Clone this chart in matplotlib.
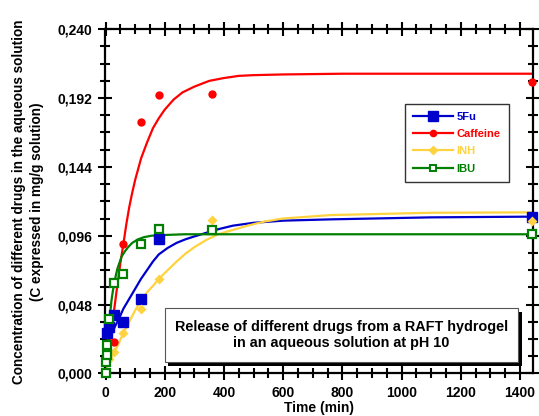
import numpy as np
import matplotlib
matplotlib.use('Agg')
import matplotlib.pyplot as plt
from matplotlib.lines import Line2D
from matplotlib.patches import Rectangle
from matplotlib.ticker import MultipleLocator, FuncFormatter

plt.rcParams['font.family'] = 'Liberation Sans'
plt.rcParams['font.weight'] = 'bold'

#%% measured release data (time in min, concentration in mg/g)

t_5fu = [5, 10, 30, 60, 120, 180, 1440]
c_5fu = [0.028, 0.032, 0.041, 0.036, 0.052, 0.094, 0.109]

t_caf = [30, 60, 120, 180, 360, 1440]
c_caf = [0.022, 0.090, 0.1755, 0.194, 0.195, 0.203]

t_inh = [10, 30, 60, 120, 180, 360, 1440]
c_inh = [0.010, 0.015, 0.028, 0.045, 0.066, 0.107, 0.106]

t_ibu = [0, 2, 4, 6, 10, 30, 60, 120, 180, 360, 1440]
c_ibu = [0.000, 0.008, 0.013, 0.020, 0.038, 0.063, 0.069, 0.090, 0.101, 0.100, 0.097]

#%% fitted release curves

fit_t_5fu = [0, 10, 20, 30, 45, 60, 80, 100, 120, 140, 160, 180, 210, 240, 270,
             300, 340, 380, 430, 500, 600, 760, 1100, 1440]
fit_c_5fu = [0.016, 0.021, 0.027, 0.032, 0.038, 0.045, 0.052, 0.059, 0.066, 0.072,
             0.078, 0.083, 0.0875, 0.091, 0.0935, 0.0955, 0.098, 0.1005, 0.103, 0.105,
             0.1065, 0.1074, 0.1088, 0.1093]

fit_t_caf = [0, 10, 20, 30, 40, 50, 60, 70, 80, 90, 100, 120, 140, 160, 180, 200,
             230, 260, 300, 350, 400, 450, 500, 600, 800, 1440]
fit_c_caf = [0.003, 0.014, 0.030, 0.046, 0.062, 0.077, 0.090, 0.104, 0.116, 0.126,
             0.135, 0.150, 0.161, 0.171, 0.178, 0.184, 0.191, 0.196, 0.200, 0.204,
             0.206, 0.2075, 0.208, 0.2085, 0.209, 0.209]

fit_t_inh = [0, 20, 40, 60, 80, 100, 120, 140, 160, 180, 210, 240, 270, 300, 340,
             380, 430, 480, 535, 600, 760, 1100, 1440]
fit_c_inh = [0.003, 0.0116, 0.019, 0.028, 0.036, 0.044, 0.051, 0.0565, 0.061, 0.066,
             0.072, 0.078, 0.0835, 0.088, 0.093, 0.097, 0.100, 0.103, 0.1058, 0.108,
             0.1104, 0.112, 0.1123]

fit_t_ibu = [0, 5, 10, 15, 20, 25, 31, 40, 54, 65, 76, 90, 110, 130, 155, 200,
             267, 1440]
fit_c_ibu = [0.005, 0.018, 0.030, 0.041, 0.051, 0.058, 0.065, 0.073, 0.0814, 0.085,
             0.088, 0.091, 0.0935, 0.095, 0.096, 0.0965, 0.097, 0.097]

names = ['5Fu', 'Caffeine', 'INH', 'IBU']
colors = ['#0000CC', '#FF0000', '#FFD23F', '#007F00']

#%% plot

fig = plt.figure(figsize=(5.39, 4.16), dpi=100)
ax = fig.add_axes([0.1948, 0.1026, 0.7935, 0.827])

fits = [(fit_t_5fu, fit_c_5fu), (fit_t_caf, fit_c_caf),
        (fit_t_inh, fit_c_inh), (fit_t_ibu, fit_c_ibu)]
for (ft, fc), col in zip(fits, colors):
    ax.plot(ft, fc, '-', color=col, lw=1.6, zorder=2, solid_joinstyle='round')

ax.plot(t_5fu, c_5fu, 's', color=colors[0], ms=6.5, clip_on=False, zorder=3)
ax.plot(t_caf, c_caf, 'o', color=colors[1], ms=6, mec='none', clip_on=False, zorder=3)
ax.plot(t_inh, c_inh, 'D', color=colors[2], ms=5.5, mec='none', clip_on=False, zorder=3)
ax.plot(t_ibu, c_ibu, 's', mfc='white', mec=colors[3], mew=1.6, ms=5.8,
        clip_on=False, zorder=4)

ax.set_xlim(-2, 1443)
ax.set_ylim(0, 0.240)
ax.xaxis.set_major_locator(MultipleLocator(200))
ax.xaxis.set_minor_locator(MultipleLocator(50))
ax.yaxis.set_major_locator(MultipleLocator(0.048))
ax.yaxis.set_minor_locator(MultipleLocator(0.012))
ax.yaxis.set_major_formatter(FuncFormatter(lambda v, p: ('%.3f' % v).replace('.', ',')))

ax.tick_params(which='both', direction='inout', top=True, right=True,
               labelsize=10, width=1.5, pad=4)
ax.tick_params(which='major', length=10)
ax.tick_params(which='minor', length=7)
for s in ax.spines.values():
    s.set_linewidth(1.6)
for lab in ax.get_xticklabels() + ax.get_yticklabels():
    lab.set_fontweight('bold')

ax.set_xlabel('Time (min)', fontsize=10, fontweight='bold', labelpad=1)
ax.set_ylabel('Concentration of different drugs in the aqueous solution\n'
              '(C expressed in mg/g solution)', fontsize=9.8, fontweight='bold',
              labelpad=10, linespacing=1.3)

# legend with line + marker samples
handles = [
    Line2D([], [], color=colors[0], lw=1.6, marker='s', ms=6.5),
    Line2D([], [], color=colors[1], lw=1.6, marker='o', ms=5.5, mec='none'),
    Line2D([], [], color=colors[2], lw=1.6, marker='D', ms=5, mec='none'),
    Line2D([], [], color=colors[3], lw=1.6, marker='s', ms=5, mfc='white', mew=1.4),
]
leg = ax.legend(handles, names, loc='upper right', bbox_to_anchor=(0.944, 0.784),
                prop={'family': 'Liberation Sans', 'weight': 'bold', 'size': 8},
                labelcolor='linecolor', frameon=True, fancybox=False,
                handlelength=3.6, handletextpad=0.3, borderpad=0.75,
                labelspacing=0.65, borderaxespad=0)
leg.get_frame().set_edgecolor('black')
leg.get_frame().set_linewidth(1.0)

# caption box with drop shadow
bx, by, bw, bh = 0.140, 0.034, 0.826, 0.155
ax.add_patch(Rectangle((bx + 0.008, by - 0.012), bw, bh, transform=ax.transAxes,
                       facecolor='black', edgecolor='none', zorder=5))
ax.add_patch(Rectangle((bx, by), bw, bh, transform=ax.transAxes,
                       facecolor='white', edgecolor='#555555', lw=0.8, zorder=6))
ax.text(bx + bw / 2, by + bh / 2,
        'Release of different drugs from a RAFT hydrogel\nin an aqueous solution at pH 10',
        transform=ax.transAxes, ha='center', va='center', fontsize=10.4,
        fontweight='bold', linespacing=1.2, zorder=7)

fig.savefig('out.png', dpi=100)
